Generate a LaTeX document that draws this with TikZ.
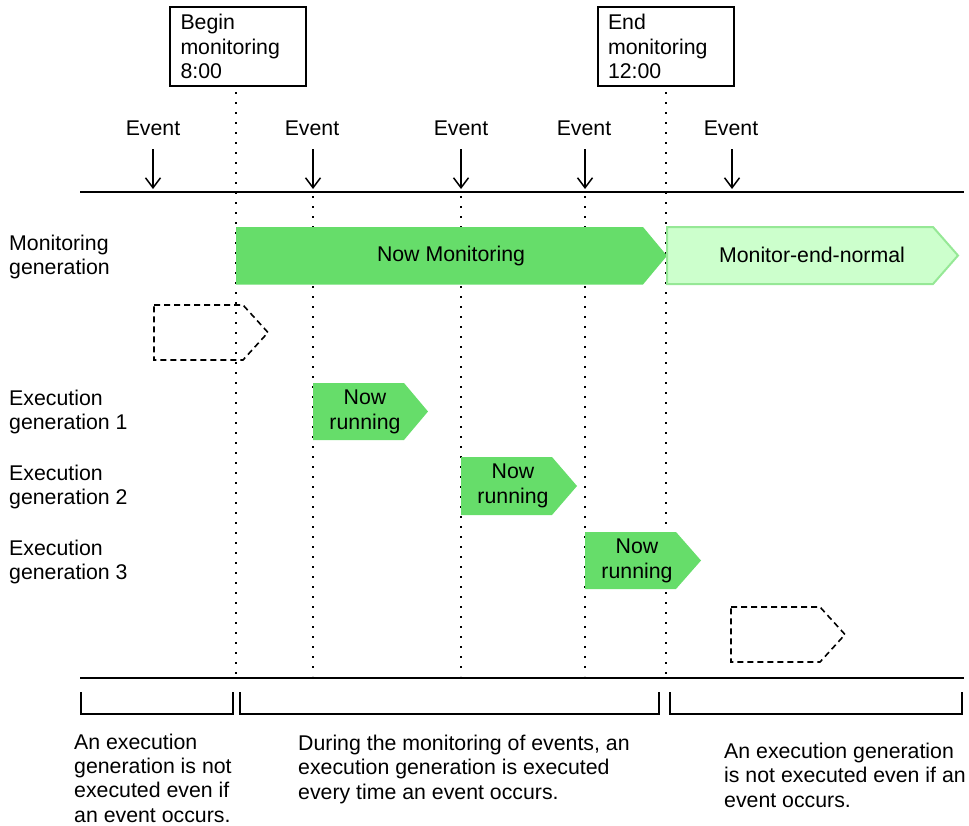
\documentclass[tikz,border=0pt]{standalone}
\usepackage{fontspec}
\setmainfont{Liberation Sans}
\usetikzlibrary{arrows.meta}
\definecolor{runG}{RGB}{102,221,106}
\definecolor{endF}{RGB}{204,255,204}
\definecolor{endD}{RGB}{150,232,150}
\newcommand{\pentshape}[6]{\path[#1] (#2,#3) -- (#4,#3) -- (#6,{(#3+#5)/2}) -- (#4,#5) -- (#2,#5) -- cycle;}
\begin{document}
\begin{tikzpicture}[x=1pt,y=-1pt,
  txt/.style={font=\fontsize{21.3}{24.3}\selectfont, inner sep=0pt, align=left},
  tbox/.style={draw, line width=2pt, font=\fontsize{21.3}{24.3}\selectfont, align=left, text width=115pt, inner xsep=10.5pt, inner ysep=0pt, minimum height=79pt},
  hline/.style={line width=2pt},
  dotline/.style={line width=1.8pt, dash pattern=on 1.8pt off 8.2pt},
  evarrow/.style={line width=1.5pt, -{Straight Barb[length=10pt,width=15pt]}},
  brk/.style={line width=2pt},
  runbox/.style={fill=runG},
  endbox/.style={fill=endF, draw=endD, line width=2pt, line join=miter},
  dashbox/.style={draw, line width=1.6pt, dash pattern=on 6pt off 4pt}]
\useasboundingbox (0,0) rectangle (969,825);

% top boxes
\node[tbox] (bbeg) at (238,46.5) {Begin\\monitoring\\8:00};
\node[tbox] (bend) at (665.5,46.5) {End\\monitoring\\12:00};

% horizontal lines
\coordinate (topL) at (80,192);
\coordinate (topR) at (964,192);
\coordinate (botL) at (80,678);
\coordinate (botR) at (964,678);
\draw[hline] (topL) -- (topR);
\draw[hline] (botL) -- (botR);

% dotted lines
\coordinate (dbT) at (236,92);  \coordinate (dbB) at (236,676);
\coordinate (deT) at (666,92);  \coordinate (deB) at (666,676);
\coordinate (d2T) at (313,196); \coordinate (d2B) at (313,676);
\coordinate (d3T) at (461,196); \coordinate (d3B) at (461,676);
\coordinate (d4T) at (585,196); \coordinate (d4B) at (585,676);
\draw[dotline] (dbT) -- (dbB);
\draw[dotline] (deT) -- (deB);
\draw[dotline] (d2T) -- (d2B);
\draw[dotline] (d3T) -- (d3B);
\draw[dotline] (d4T) -- (d4B);

% events
\node[txt, anchor=base] (ev1) at (153,135) {Event};
\node[txt, anchor=base] (ev2) at (312,135) {Event};
\node[txt, anchor=base] (ev3) at (461,135) {Event};
\node[txt, anchor=base] (ev4) at (584,135) {Event};
\node[txt, anchor=base] (ev5) at (731,135) {Event};
\coordinate (ah1) at (153,189);
\coordinate (ah2) at (313,189);
\coordinate (ah3) at (461,189);
\coordinate (ah4) at (585,189);
\coordinate (ah5) at (732,189);
\draw[evarrow, shorten <=14pt] (ev1.south -| ah1) -- (ah1);
\draw[evarrow, shorten <=14pt] (ev2.south -| ah2) -- (ah2);
\draw[evarrow, shorten <=14pt] (ev3.south -| ah3) -- (ah3);
\draw[evarrow, shorten <=14pt] (ev4.south -| ah4) -- (ah4);
\draw[evarrow, shorten <=14pt] (ev5.south -| ah5) -- (ah5);

% left labels (base = last line)
\node[txt, anchor=base west] (lmon) at (9,274.5) {Monitoring\\generation};
\node[txt, anchor=base west] (lex1) at (9,429.5) {Execution\\generation 1};
\node[txt, anchor=base west] (lex2) at (9,504.5) {Execution\\generation 2};
\node[txt, anchor=base west] (lex3) at (9,579.5) {Execution\\generation 3};

% generation shapes
\pentshape{runbox}{236}{227}{643}{284.5}{667}
\node[txt] (nowmon) at (451,256) {Now Monitoring};
\pentshape{endbox}{667}{227}{933}{284}{958}
\node[txt] (monend) at (812,255) {Monitor-end-normal};
\pentshape{dashbox}{154}{305}{243}{360}{268}
\pentshape{runbox}{313}{383}{404}{440}{428}
\node[txt, align=center] (nr1) at (365,412) {Now\\running};
\pentshape{runbox}{461}{457}{552}{515}{577}
\node[txt, align=center] (nr2) at (513,486) {Now\\running};
\pentshape{runbox}{585}{532}{676}{589}{701}
\node[txt, align=center] (nr3) at (637,561) {Now\\running};
\pentshape{dashbox}{731}{607}{820}{662}{845}

% brackets
\draw[brk] (81,692) -- (81,714) -- (233,714) -- (233,692);
\draw[brk] (240,692) -- (240,714) -- (659,714) -- (659,692);
\draw[brk] (670,692) -- (670,714) -- (962,714) -- (962,692);

% bottom texts (base = last line)
\node[txt, anchor=base west] (n1) at (74,822) {An execution\\generation is not\\executed even if\\an event occurs.};
\node[txt, anchor=base west] (n2) at (298,799) {During the monitoring of events, an\\execution generation is executed\\every time an event occurs.};
\node[txt, anchor=base west] (n3) at (724,807) {An execution generation\\is not executed even if an\\event occurs.};
\end{tikzpicture}
\end{document}
